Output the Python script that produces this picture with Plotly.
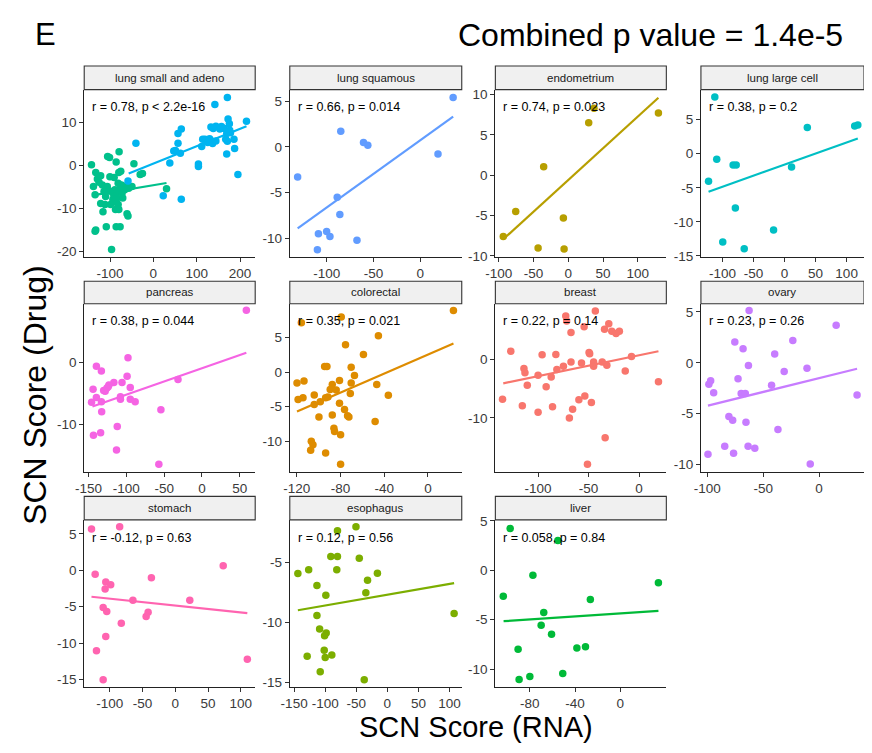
import plotly.graph_objects as go

# ---------------- data ----------------
panel_names = ["lung small and adeno", "lung squamous", "endometrium", "lung large cell",
               "pancreas", "colorectal", "breast", "ovary",
               "stomach", "esophagus", "liver"]
stat_labels = ["r = 0.78, p < 2.2e-16", "r = 0.66, p = 0.014", "r = 0.74, p = 0.023",
               "r = 0.38, p = 0.2", "r = 0.38, p = 0.044", "r = 0.35, p = 0.021",
               "r = 0.22, p = 0.14", "r = 0.23, p = 0.26", "r = -0.12, p = 0.63",
               "r = 0.12, p = 0.56", "r = 0.058, p = 0.84"]

adeno_x = [-142.7, -138.2, -132.9, -129.1, -125.3, -121.5, -134.4, -117.7, -121.5, -116.2, -111.6,
           -132.9, -134.4, -108.6, -105.5, -101.0, -96.4, -100.2, -106.3, -102.5, -94.9, -91.1,
           -88.8, -85.8, -93.4, -88.8, -83.5, -81.2, -87.3, -79.7, -85.8, -76.7, -79.0, -85.8,
           -79.7, -75.2, -90.4, -81.2, -75.9, -72.1, -70.6, -73.7, -62.3, -56.9, -49.4, -60.7,
           -58.5, -44.8, -30.4, -25.1, 30.4, -110.1, -98.7, -113.9, -66.1]
adeno_y = [0.15, -4.9, -1.67, -3.18, -3.94, -2.42, -6.82, -4.55, -8.86, -10.76, -9.09,
           -15.0, -15.3, -14.24, 2.05, 1.82, -19.55, -2.65, -4.92, -5.9, -6.2, -6.97,
           -5.68, -6.44, -7.95, -8.48, -7.58, -9.09, -10.23, -10.23, -14.24, -14.24, 3.18, 0.76,
           -1.67, -1.36, -2.8, -4.17, -5.3, -6.44, -7.58, -4.55, -4.77, -5.3, -4.92, -11.21,
           -11.74, 0.38, -2.12, -1.89, -5.45, -7.2, -9.09, -6.06, -5.68]
small_x = [-58.5, -40.2, 22.8, 38.0, 47.1, 50.9, 56.9, 56.9, 64.5, 62.3, 64.5, 104.0, 104.0,
           111.6, 113.9, 119.2, 125.3, 129.8, 132.9, 138.2, 134.4, 136.7, 142.0, 144.3, 153.4,
           157.2, 163.3, 167.0, 170.8, 169.3, 176.2, 170.8, 172.4, 175.4, 169.3, 186.0, 187.5,
           195.1, 214.9, 144.3, 178.0]
small_y = [-3.64, 5.15, -7.05, 0.53, 3.33, 3.48, 5.15, 7.42, 8.48, 2.8, -7.88, 0.3, -0.23,
           4.39, 6.06, 6.06, 5.3, 6.21, 8.94, 8.56, 5.68, 5.08, 14.17, 9.09, 8.48,
           9.02, 8.56, 6.06, 5.6, 7.42, 8.18, 15.76, 10.76, 9.7, 2.65, 6.06, 3.94,
           -2.12, 10.23, 5.68, 7.58]

squamous_x = [-131, -84.9, -60.6, -56, 35.2, 19, -88.7, -85.9, -108.8, -100, -96.5, -109.9, -67.6]
squamous_y = [-3.3, 1.7, 0.46, 0.18, 5.4, -0.79, -5.5, -7.4, -9.5, -9.25, -9.8, -11.25, -10.2]

endometrium_x = [-93.6, -75.7, -35.5, -43.5, -7.1, -6.1, 29.3, 36.9, 129.6]
endometrium_y = [-7.6, -4.5, 1.05, -9.03, -5.3, -9.15, 6.5, 8.3, 7.7]

large_x = [-112.5, -122.6, -109.4, -83, -78, -79.4, -99.7, -65.1, -17.8, 11.2, 36.6, 113, 118]
large_y = [8.33, -4.05, -0.81, -1.67, -1.67, -7.95, -12.95, -13.95, -11.2, -1.95, 3.86, 4.05, 4.2]

pancreas_x = [58.7, -97.8, -139.6, -133, -99, -94.8, -105.7, -116.5, -123, -124, -125.6, -128,
              -130, -144, -139.6, -133, -146, -132.6, -107.8, -107.8, -94.8, -88.3, -54.3,
              -31.7, -143.5, -134, -112, -113, -57]
pancreas_y = [8.46, 0.8, -0.59, -1.33, -2.2, -4.0, -3.2, -3.2, -3.6, -3.9, -4.1, -4.6,
              -4.5, -4.3, -5.6, -6.3, -6.4, -7.9, -5.5, -5.9, -5.9, -6.3, -7.6,
              -2.7, -11.7, -11.3, -10.3, -14.1, -16.4]

colorectal_x = [23.4, -115.8, -79.3, -45.3, -75.4, -59, -94.5, -92.4, -70.2, -67.2, -119.8,
                -113.4, -80.9, -70.2, -46.8, -87.5, -89.4, -83.9, -71, -118.8, -114.3, -104,
                -104, -98.5, -93.6, -91.5, -36.2, -80.9, -76.3, -99.7, -87.5, -72.3, -73.5,
                -86, -85.4, -79.9, -48.3, -106.7, -105.2, -107.3, -93.6, -79.9]
colorectal_y = [8.9, 7.14, 7.95, 5.24, 3.95, 2.52, 0.8, 0.8, 0.7, -0.48, -1.57,
                -1.3, -1.2, -1.57, -1.8, -1.8, -2.5, -2.6, -3.1, -3.95, -3.7, -3.3,
                -4.67, -4.3, -3.7, -3.6, -3.33, -4.5, -5.4, -6.5, -6.2, -6.5, -6.3,
                -8.1, -8.6, -9.05, -7.14, -10.0, -10.5, -11.3, -11.7, -13.3]

breast_x = [-135.2, -127, -114, -113, -110.7, -115.6, -100, -100, -96, -92, -87, -85.7, -82.4,
            -81.4, -74.9, -72.6, -71.7, -67.4, -67.4, -65.8, -69, -59.6, -57, -54.4, -53.7,
            -49.5, -48.9, -47.2, -45, -45, -45, -43.3, -36.5, -34.2, -31.9, -33.6, -30,
            -27, -22.8, -19.5, -13.7, -7.5, 19.2, -51.1]
breast_y = [-6.8, 1.4, -1.57, -2.3, -4.4, -7.9, -2.7, -9.05, 0.8, -4.66, -3.0, -8.1, 0.84,
            -1.74, -1.18, 7.4, 6.57, 4.6, -0.45, -8.5, -10.0, -6.9, -0.62, 5.56, -6.24,
            1.2, 0.95, -7.36, -0.45, -0.84, -1.18, 8.26, -0.45, 5.17, -1.0, -13.4, 6.1,
            4.8, 4.44, 4.8, -1.97, 0.5, -3.82, -17.9]

ovary_x = [-62.6, 15.3, -75.4, -68, -23.5, -39.7, -63.2, -31.2, -10.8, -98.6, -97, -72.5,
           -94.3, -69.7, -66, -42.5, 34, -80.7, -77.3, -65.4, -36.8, -84.4, -76.5, -99.4,
           -63.5, -57.5, -7.9]
ovary_y = [5.13, 3.7, 2.06, 1.39, 2.2, 0.87, -0.26, -0.84, -0.52, -2.1, -1.77, -1.55,
           -2.94, -3.0, -3.0, -2.2, -3.16, -5.26, -5.65, -5.84, -6.55, -8.2, -8.87, -8.97,
           -8.2, -8.4, -9.94]

stomach_x = [-127.8, -84.8, -122.2, -106, -98.5, -107, -110, -104.5, -82.3, -106, -120.2,
             -110, -64.6, -36.4, -41.4, -44.4, 22.2, 73.2, 110]
stomach_y = [5.66, 5.98, -0.54, -1.62, -1.98, -2.56, -5.12, -5.66, -7.28, -9.1, -11.05,
             -15.0, -4.13, -1.03, -5.75, -6.34, -4.13, 0.63, -12.2]

esophagus_x = [-50.5, -80.3, -91, -80.3, -45.2, -144, -126.6, -81.4, -16, -31.9, -113.3,
               -34.6, -99, -113.3, 107.4, -109, -98.4, -101, -101.6, -129, -100, -89.4,
               -108, -37.2]
esophagus_y = [-2.07, -2.4, -4.54, -4.54, -4.67, -5.95, -5.63, -5.63, -5.92, -6.5, -6.93,
               -7.53, -7.74, -9.43, -9.27, -10.54, -10.87, -11.1, -12.3, -12.8, -12.9, -12.7,
               -14.1, -14.75]

liver_x = [-97.4, -55.2, -77.3, -103.5, 33.7, -26.5, -67.7, -70, -60.8, -90.4, -89.5, -80,
           -50.9, -38.4, -30.8]
liver_y = [4.23, 3.02, -0.49, -2.62, -1.25, -2.95, -4.26, -5.57, -6.46, -8.0, -11.05, -10.75,
           -10.43, -7.87, -7.74]

# fitted lines (x start, x end, y start, y end)
fit_adeno = [-140.5, 30.4, -6.97, -4.09]
fit_small = [-56.9, 214.9, -1.89, 9.09]
fit_lines = [None, [-131, 35.2, -8.9, 3.3], [-93.6, 129.6, -7.94, 9.6], [-122.6, 118, -5.57, 2.24],
             [-144.8, 58.7, -7.07, 1.6], [-119.8, 23.4, -5.7, 4.14], [-134.5, 19.2, -4.1, 1.4],
             [-99.4, 34, -4.2, -0.58], [-127.8, 110, -3.64, -5.89], [-144, 107.4, -8.99, -6.74],
             [-103.2, 33.7, -5.15, -4.1]]

x_ranges = [[-159.5, 235], [-139.4, 44.4], [-105, 141], [-134.9, 128], [-155.7, 70.4],
            [-126.4, 31], [-142.3, 27], [-105.7, 40.2], [-138.9, 122], [-157, 119.7],
            [-110.5, 40.7]]
y_ranges = [[-21.2, 17.6], [-12.0, 6.25], [-10.1, 10.6], [-15.1, 9.4], [-17.6, 9.5],
            [-14.4, 9.86], [-19.2, 9.5], [-10.7, 5.8], [-16, 6.9], [-15.35, -1.5],
            [-11.8, 5.1]]
x_ticks = [[-100, 0, 100, 200], [-100, -50, 0], [-100, -50, 0, 50, 100], [-100, -50, 0, 50, 100],
           [-150, -100, -50, 0, 50], [-120, -80, -40, 0], [-100, -50, 0], [-100, -50, 0],
           [-100, -50, 0, 50, 100], [-150, -100, -50, 0, 50, 100], [-80, -40, 0]]
y_ticks = [[-20, -10, 0, 10], [-10, -5, 0, 5], [-10, -5, 0, 5, 10], [-15, -10, -5, 0, 5],
           [-10, 0], [-10, -5, 0, 5], [-10, 0], [-10, -5, 0, 5],
           [-15, -10, -5, 0, 5], [-15, -10, -5], [-10, -5, 0, 5]]

col_adeno, col_small = "#00C08B", "#00B4F0"
panel_colors = [None, "#619CFF", "#B79F00", "#00BFC4", "#F564E3", "#DE8C00", "#F8766D",
                "#C77CFF", "#FF64B0", "#7CAE00", "#00BA38"]
panel_data = [None, (squamous_x, squamous_y), (endometrium_x, endometrium_y), (large_x, large_y),
              (pancreas_x, pancreas_y), (colorectal_x, colorectal_y), (breast_x, breast_y),
              (ovary_x, ovary_y), (stomach_x, stomach_y), (esophagus_x, esophagus_y),
              (liver_x, liver_y)]

# ---------------- layout geometry (target pixels in the 872x753 window) ----------------
# the page keeps the browser's 8px body margin, so the figure is 856x737 and
# every target pixel q maps to figure pixel q - 8
OFF = 8
W, H = 872 - 2 * OFF, 753 - 2 * OFF
cols_px = [(75, 248), (283, 457), (491, 664), (699, 864)]
rows_px = [(85, 255), (303, 474), (523, 693)]
strip_px = [(61, 85), (280, 303), (499, 523)]
FONT = "Liberation Sans, Arial, sans-serif"

fig = go.Figure()
layout = dict(width=W, height=H, margin=dict(l=0, r=0, t=0, b=0),
              paper_bgcolor="white", plot_bgcolor="white", showlegend=False,
              font=dict(family=FONT))
shapes, annotations = [], []


def px_x(q):
    return (q - OFF) / W


def px_y(q):
    return 1 - (q - OFF) / H


def add_pts(i, xs, ys, color):
    fig.add_trace(go.Scatter(x=xs, y=ys, mode="markers", xaxis=f"x{i+1}", yaxis=f"y{i+1}",
                             marker=dict(color=color, size=7.5, line=dict(width=0)),
                             hoverinfo="skip"))


def add_fit(i, f, color):
    fig.add_trace(go.Scatter(x=[f[0], f[1]], y=[f[2], f[3]], mode="lines",
                             xaxis=f"x{i+1}", yaxis=f"y{i+1}",
                             line=dict(color=color, width=2.2), hoverinfo="skip"))


for i in range(11):
    r, c = divmod(i, 4)
    x0, x1 = cols_px[c]
    y0, y1 = rows_px[r]
    s0, s1 = strip_px[r]
    ax = dict(domain=[px_x(x0), px_x(x1)], range=x_ranges[i], anchor=f"y{i+1}",
              tickvals=x_ticks[i], ticktext=[str(v) for v in x_ticks[i]],
              showline=True, linecolor="#222", linewidth=1.1, ticks="outside", ticklen=4,
              tickcolor="#333", tickfont=dict(size=13.5, color="#3a3a3a"),
              showgrid=False, zeroline=False)
    ay = dict(domain=[px_y(y1), px_y(y0)], range=y_ranges[i], anchor=f"x{i+1}",
              tickvals=y_ticks[i], ticktext=[str(v) for v in y_ticks[i]],
              showline=True, linecolor="#222", linewidth=1.1, ticks="outside", ticklen=4,
              tickcolor="#333", tickfont=dict(size=13.5, color="#3a3a3a"),
              showgrid=False, zeroline=False)
    layout["xaxis" if i == 0 else f"xaxis{i+1}"] = ax
    layout["yaxis" if i == 0 else f"yaxis{i+1}"] = ay

    if i == 0:
        add_pts(i, adeno_x, adeno_y, col_adeno)
        add_pts(i, small_x, small_y, col_small)
        add_fit(i, fit_adeno, col_adeno)
        add_fit(i, fit_small, col_small)
    else:
        xs, ys = panel_data[i]
        add_pts(i, xs, ys, panel_colors[i])
        add_fit(i, fit_lines[i], panel_colors[i])

    # strip
    shapes.append(dict(type="rect", xref="paper", yref="paper",
                       x0=px_x(x0), x1=px_x(x1), y0=px_y(s1), y1=px_y(s0),
                       fillcolor="#F0F0F0", line=dict(color="#333", width=1.1), layer="above"))
    annotations.append(dict(xref="paper", yref="paper", x=px_x((x0 + x1) / 2),
                            y=px_y((s0 + s1) / 2), text=panel_names[i], showarrow=False,
                            xanchor="center", yanchor="middle",
                            font=dict(size=11.5, color="#1A1A1A", family=FONT)))
    # correlation label
    annotations.append(dict(xref="paper", yref="paper", x=px_x(x0 + 6), y=px_y(y0 + 18),
                            text=stat_labels[i], showarrow=False, xanchor="left",
                            yanchor="middle", font=dict(size=12.5, color="black", family=FONT)))

# titles
annotations.append(dict(xref="paper", yref="paper", x=px_x(23), y=px_y(29), text="E",
                        showarrow=False, xanchor="left", yanchor="middle",
                        font=dict(size=31, color="black", family=FONT)))
annotations.append(dict(xref="paper", yref="paper", x=px_x(648), y=px_y(29),
                        text="Combined p value = 1.4e-5", showarrow=False, xanchor="center",
                        yanchor="middle", font=dict(size=32, color="black", family=FONT)))
annotations.append(dict(xref="paper", yref="paper", x=px_x(471), y=px_y(733.5),
                        text="SCN Score (RNA)", showarrow=False, xanchor="center",
                        yanchor="middle", font=dict(size=29, color="black", family=FONT)))
annotations.append(dict(xref="paper", yref="paper", x=px_x(25), y=px_y(396),
                        text="SCN Score (Drug)", showarrow=False, xanchor="center",
                        yanchor="middle", textangle=-90,
                        font=dict(size=32, color="black", family=FONT)))

layout["shapes"] = shapes
layout["annotations"] = annotations
fig.update_layout(**layout)

fig.write_html("out.html", config={"displayModeBar": False})
